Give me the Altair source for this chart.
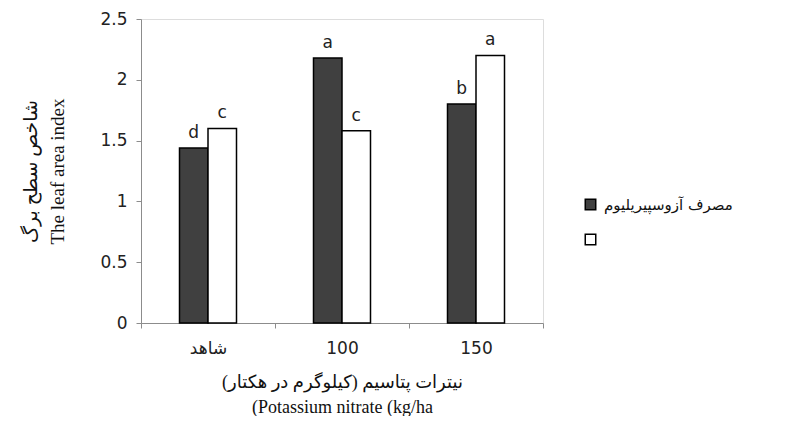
import altair as alt
import pandas as pd

groups = ["شاهد", "100", "150"]
series = ["مصرف آزوسپیریلیوم", ""]
values_s1 = [1.44, 2.18, 1.80]
values_s2 = [1.60, 1.58, 2.20]
letters_s1 = ["d", "a", "b"]
letters_s2 = ["c", "c", "a"]

rows = []
for g, v, l in zip(groups, values_s1, letters_s1):
    rows.append({"group": g, "series": series[0], "value": v, "letter": l})
for g, v, l in zip(groups, values_s2, letters_s2):
    rows.append({"group": g, "series": series[1], "value": v, "letter": l})
df = pd.DataFrame(rows)

SANS = "DejaVu Sans, sans-serif"
SERIF = "Liberation Serif, DejaVu Sans, serif"

x = alt.X(
    "group:N",
    sort=groups,
    scale=alt.Scale(paddingInner=0, paddingOuter=0),
    axis=alt.Axis(
        title=["نیترات پتاسیم (کیلوگرم در هکتار)", "(Potassium nitrate (kg/ha"],
        labelAngle=0,
        tickBand="extent",
        tickSize=5,
        labelPadding=12,
        labelFontSize=17,
        labelFont=SANS,
        labelColor="#222222",
        domainColor="#8c8c8c",
        tickColor="#8c8c8c",
        titleFont=SERIF,
        titleFontSize=18,
        titleFontWeight="normal",
        titleColor="#111111",
        titleLineHeight=25,
        titleBaseline="top",
        titleY=50,
    ),
)
xo = alt.XOffset(
    "series:N",
    sort=series,
    scale=alt.Scale(domain=series, range=[38.5, 95.5], paddingInner=0, paddingOuter=0),
)
y = alt.Y(
    "value:Q",
    scale=alt.Scale(domain=[0, 2.5]),
    axis=alt.Axis(
        title=["شاخص سطح برگ", "The leaf area index"],
        values=[0, 0.5, 1, 1.5, 2, 2.5],
        format="~g",
        grid=False,
        tickSize=5,
        labelPadding=9,
        labelFontSize=17,
        labelFont=SANS,
        labelColor="#222222",
        domainColor="#8c8c8c",
        tickColor="#8c8c8c",
        titleFont=SERIF,
        titleFontSize=19,
        titleFontWeight="normal",
        titleColor="#111111",
        titleLineHeight=27,
        titleX=-101,
        titleY=152,
        titleAlign="center",
        titleBaseline="bottom",
    ),
)

bars = alt.Chart(df).mark_bar(stroke="black", strokeWidth=1.5).encode(
    x=x,
    xOffset=xo,
    y=y,
    fill=alt.Fill(
        "series:N",
        sort=series,
        scale=alt.Scale(domain=series, range=["#404040", "#ffffff"]),
        legend=alt.Legend(
            title=None,
            orient="none",
            legendX=442,
            legendY=178,
            symbolType="square",
            symbolSize=110,
            symbolStrokeColor="black",
            symbolStrokeWidth=1.5,
            labelFont=SANS,
            labelFontSize=15,
            labelColor="#111111",
            labelOffset=6,
            rowPadding=18,
        ),
    ),
)

letters = alt.Chart(df).mark_text(
    baseline="bottom", dy=-6, fontSize=17, font=SANS, color="#222222"
).encode(
    x=x,
    xOffset=xo,
    y=y,
    text="letter:N",
)

chart = (
    alt.layer(bars, letters)
    .properties(
        width=402,
        height=304,
        autosize=alt.AutoSizeParams(type="none"),
        padding={"left": 133, "top": 11, "right": 242, "bottom": 93},
    )
    .configure_view(stroke=None)
    .configure(background="white")
)

chart.save("out.html", embed_options={"renderer": "svg", "actions": False})
